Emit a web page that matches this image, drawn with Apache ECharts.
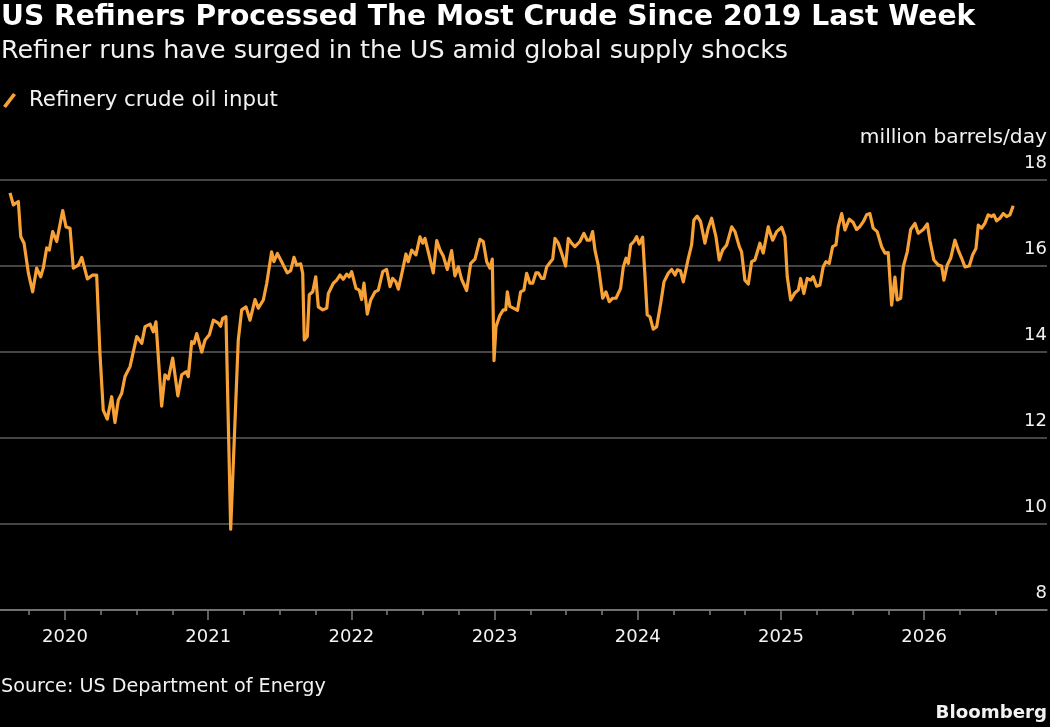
<!DOCTYPE html>
<html>
<head>
<meta charset="utf-8">
<script src="https://cdn.jsdelivr.net/npm/echarts@6/dist/echarts.min.js"></script>
<style>
html,body{margin:0;padding:0;background:#000;}
#chart{width:1050px;height:727px;}
</style>
</head>
<body>
<div id="chart"></div>
<script>
// Dates as decimal years, values in million barrels/day
const dates = [
2019.616,2019.639,2019.674,2019.691,2019.714,2019.744,2019.774,2019.802,2019.830,2019.848,
2019.872,2019.890,2019.914,2019.942,2019.960,2019.984,2020.007,2020.035,2020.058,2020.093,
2020.117,2020.156,2020.193,2020.221,2020.244,2020.267,2020.295,2020.326,2020.349,2020.372,
2020.396,2020.419,2020.454,2020.501,2020.536,2020.559,2020.594,2020.617,2020.635,2020.675,
2020.698,2020.721,2020.752,2020.788,2020.815,2020.845,2020.861,2020.885,2020.901,2020.920,
2020.955,2020.978,2021.008,2021.036,2021.071,2021.087,2021.101,2021.124,2021.157,2021.210,
2021.234,2021.264,2021.292,2021.327,2021.350,2021.385,2021.409,2021.443,2021.459,2021.483,
2021.513,2021.552,2021.576,2021.599,2021.618,2021.646,2021.660,2021.671,2021.692,2021.706,
2021.730,2021.751,2021.769,2021.800,2021.828,2021.839,2021.874,2021.897,2021.920,2021.943,
2021.967,2021.985,2022.002,2022.032,2022.055,2022.072,2022.088,2022.111,2022.135,2022.165,
2022.188,2022.219,2022.246,2022.270,2022.288,2022.311,2022.328,2022.358,2022.381,2022.397,
2022.421,2022.451,2022.479,2022.498,2022.514,2022.537,2022.572,2022.596,2022.619,2022.642,
2022.670,2022.700,2022.723,2022.747,2022.770,2022.805,2022.833,2022.863,2022.898,2022.921,
2022.945,2022.968,2022.984,2022.996,2023.010,2023.038,2023.061,2023.078,2023.089,2023.107,
2023.131,2023.160,2023.182,2023.205,2023.224,2023.247,2023.266,2023.289,2023.305,2023.329,
2023.345,2023.364,2023.387,2023.406,2023.422,2023.445,2023.468,2023.496,2023.515,2023.538,
2023.561,2023.596,2023.624,2023.647,2023.666,2023.685,2023.701,2023.724,2023.755,2023.778,
2023.801,2023.825,2023.848,2023.880,2023.899,2023.918,2023.934,2023.950,2023.973,2023.992,
2024.010,2024.034,2024.050,2024.066,2024.085,2024.108,2024.132,2024.160,2024.183,2024.213,
2024.237,2024.260,2024.276,2024.298,2024.318,2024.353,2024.376,2024.392,2024.415,2024.439,
2024.469,2024.492,2024.516,2024.546,2024.569,2024.593,2024.621,2024.656,2024.679,2024.709,
2024.725,2024.748,2024.772,2024.795,2024.818,2024.853,2024.876,2024.911,2024.942,2024.970,
2025.005,2025.028,2025.044,2025.068,2025.098,2025.121,2025.137,2025.160,2025.183,2025.207,
2025.225,2025.249,2025.272,2025.295,2025.314,2025.337,2025.361,2025.384,2025.400,2025.424,
2025.447,2025.477,2025.505,2025.528,2025.552,2025.575,2025.598,2025.621,2025.644,2025.672,
2025.703,2025.726,2025.749,2025.773,2025.796,2025.812,2025.836,2025.854,2025.882,2025.906,
2025.936,2025.959,2025.994,2026.022,2026.040,2026.068,2026.099,2026.122,2026.138,2026.161,
2026.185,2026.215,2026.238,2026.262,2026.285,2026.315,2026.339,2026.362,2026.378,2026.401,
2026.424,2026.447,2026.471,2026.487,2026.506,2026.529,2026.552,2026.576,2026.599,2026.622
];
const values = [
17.70,17.42,17.50,16.68,16.53,15.84,15.40,15.95,15.75,15.95,
16.42,16.37,16.80,16.57,16.88,17.29,16.91,16.88,15.95,16.02,
16.20,15.70,15.79,15.79,13.97,12.65,12.44,12.96,12.36,12.88,
13.04,13.43,13.66,14.36,14.20,14.59,14.65,14.47,14.70,12.74,
13.47,13.37,13.86,12.98,13.47,13.54,13.43,14.24,14.20,14.43,
14.00,14.28,14.40,14.74,14.67,14.60,14.78,14.82,9.88,14.28,
14.98,15.05,14.74,15.22,15.02,15.21,15.60,16.33,16.10,16.29,
16.10,15.84,15.89,16.20,16.02,16.05,15.83,14.28,14.36,15.33,
15.40,15.75,15.05,14.98,15.02,15.36,15.60,15.67,15.79,15.69,
15.81,15.75,15.87,15.48,15.44,15.22,15.60,14.88,15.21,15.40,
15.44,15.87,15.92,15.52,15.71,15.63,15.46,15.91,16.28,16.10,
16.37,16.26,16.68,16.53,16.64,16.33,15.84,16.59,16.37,16.23,
15.92,16.36,15.77,15.98,15.69,15.43,16.06,16.16,16.62,16.57,
16.10,15.95,16.16,13.80,14.59,14.86,14.98,14.98,15.40,15.06,
15.02,14.97,15.40,15.44,15.83,15.60,15.60,15.84,15.84,15.71,
15.71,15.98,16.08,16.16,16.64,16.53,16.30,16.00,16.64,16.53,
16.45,16.57,16.76,16.60,16.60,16.80,16.37,16.02,15.25,15.40,
15.17,15.25,15.25,15.48,15.98,16.18,16.06,16.49,16.57,16.68,
16.51,16.67,15.79,14.86,14.82,14.53,14.59,15.13,15.63,15.83,
15.92,15.79,15.91,15.89,15.63,16.18,16.49,17.07,17.16,17.03,
16.53,16.88,17.11,16.68,16.14,16.37,16.49,16.91,16.80,16.45,
16.33,15.67,15.58,16.10,16.14,16.53,16.30,16.91,16.60,16.80,
16.90,16.68,15.75,15.21,15.38,15.44,15.71,15.36,15.71,15.67,
15.75,15.53,15.56,15.98,16.10,16.06,16.45,16.49,16.91,17.22,
16.84,17.09,17.01,16.85,16.92,17.03,17.19,17.22,16.88,16.80,
16.45,16.30,16.31,15.09,15.74,15.21,15.25,15.98,16.33,16.85,
16.99,16.76,16.85,16.98,16.60,16.14,16.02,16.00,15.67,16.02,
16.18,16.60,16.37,16.18,15.98,16.00,16.26,16.41,16.95,16.88,
16.99,17.19,17.15,17.19,17.05,17.11,17.22,17.15,17.19,17.40
];
const yearTicks = [2020, 2021, 2022, 2023, 2024, 2025, 2026];
const quarterTicks = [
2019.75,2020,2020.25,2020.5,2020.75,2021,2021.25,2021.5,2021.75,2022,2022.25,2022.5,2022.75,
2023,2023.25,2023.5,2023.75,2024,2024.25,2024.5,2024.75,2025,2025.25,2025.5,2025.75,2026,2026.25,2026.5
];
const yTicks = [8, 10, 12, 14, 16, 18];

const FONT = 'DejaVu Sans';
const ORANGE = '#f7a136';
const GRID = '#5c5c5c';
const TXT = '#f2f2f2';
const xMin = 2019.546, xMax = 2026.858;

const chart = echarts.init(document.getElementById('chart'), null, {renderer: 'canvas'});
chart.setOption({
  backgroundColor: '#000',
  animation: false,
  textStyle: {fontFamily: FONT},
  title: [
    {text: 'US Refiners Processed The Most Crude Since 2019 Last Week', left: 1, top: 4, padding: 0,
     textStyle: {color: '#fff', fontSize: 28.2, fontWeight: 'bold', fontFamily: FONT}},
    {text: 'Refiner runs have surged in the US amid global supply shocks', left: 1, top: 39, padding: 0,
     textStyle: {color: TXT, fontSize: 25.4, fontWeight: 'normal', fontFamily: FONT}},
    {text: 'million barrels/day', right: 3, top: 128, padding: 0,
     textStyle: {color: TXT, fontSize: 20.2, fontWeight: 'normal', fontFamily: FONT}},
    {text: 'Source: US Department of Energy', left: 1, top: 678, padding: 0,
     textStyle: {color: TXT, fontSize: 19.2, fontWeight: 'normal', fontFamily: FONT}},
    {text: 'Bloomberg', right: 3, top: 704, padding: 0,
     textStyle: {color: TXT, fontSize: 18.2, fontWeight: 'bold', fontFamily: FONT}}
  ],
  legend: {
    left: 3, top: 90, padding: 0,
    itemWidth: 13, itemHeight: 15,
    data: [{name: 'Refinery crude oil input', icon: 'path://M0,13 L10,0 L13,2 L3,15 Z'}],
    textStyle: {color: TXT, fontSize: 21.3, fontFamily: FONT, padding: [0, 0, 0, 8]}
  },
  grid: {left: 0, right: 3, top: 180, bottom: 117, containLabel: false},
  xAxis: [
    {
      type: 'value', min: xMin, max: xMax,
      axisLine: {show: true, lineStyle: {color: '#808080', width: 1.5}},
      axisTick: {show: true, customValues: yearTicks, length: 10, lineStyle: {color: '#808080', width: 1.5}},
      axisLabel: {show: true, customValues: yearTicks, color: TXT, fontSize: 18, fontFamily: FONT, margin: 18,
                  formatter: v => String(Math.round(v))},
      splitLine: {show: false}
    },
    {
      type: 'value', min: xMin, max: xMax, position: 'bottom',
      axisLine: {show: false},
      axisTick: {show: true, customValues: quarterTicks, length: 5, lineStyle: {color: '#808080', width: 1.5}},
      axisLabel: {show: false},
      splitLine: {show: false}
    }
  ],
  yAxis: {
    type: 'value', position: 'right', min: 8, max: 18, interval: 2,
    axisLine: {show: false}, axisTick: {show: false},
    splitLine: {show: true, lineStyle: {color: GRID, width: 1.5}},
    axisLabel: {inside: true, align: 'right', verticalAlign: 'bottom', margin: 0,
                color: TXT, fontSize: 18, fontFamily: FONT, padding: [0, 0, 8, 0],
                customValues: yTicks}
  },
  series: [{
    name: 'Refinery crude oil input',
    type: 'line',
    xAxisIndex: 0,
    showSymbol: false,
    color: ORANGE,
    lineStyle: {color: ORANGE, width: 3.2, join: 'round'},
    data: dates.map((d, i) => [d, values[i]])
  }]
});
</script>
</body>
</html>
